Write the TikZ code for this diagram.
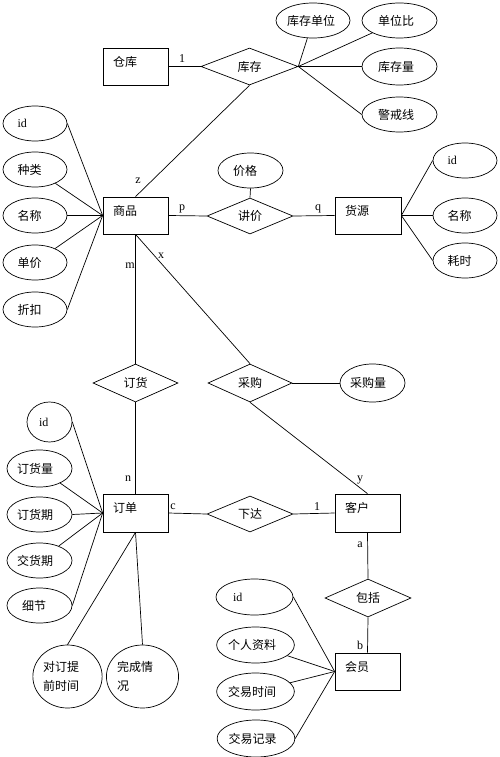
\documentclass[tikz,border=0pt]{standalone}
\usepackage{fontspec}
\setmainfont{Liberation Serif}
\newfontfamily\cjk{Noto Sans CJK SC}
\usetikzlibrary{shapes.geometric}
\begin{document}
\begin{tikzpicture}[x=1pt,y=-1pt,line width=0.7pt,
  cjkf/.style={font=\fontsize{12}{14}\selectfont\cjk},
  ent/.style={draw,rectangle,minimum width=65pt,minimum height=37pt,inner sep=0pt,
    label={[anchor=west,inner sep=0pt,xshift=10pt,yshift=-14pt,cjkf]north west:#1}},
  rel/.style={draw,diamond,inner sep=0pt,minimum width=86pt,minimum height=37pt,cjkf},
  att/.style={draw,ellipse,inner sep=0pt,minimum width=65pt,minimum height=35pt,
    text width=35pt,align=left,cjkf},
  card/.style={inner sep=0pt,font=\fontsize{12}{14}\selectfont\rmfamily}
]
\useasboundingbox (0,0) rectangle (500,757);

% entities
\node[ent=仓库] (ck) at (135.5,66.5) {};
\node[ent=商品] (sp) at (135.5,215.5) {};
\node[ent=货源,minimum width=66pt] (hy) at (368,215.5) {};
\node[ent=订单,minimum height=38pt] (dd) at (135.5,513) {};
\node[ent=客户,minimum height=38pt] (kh) at (367.5,513) {};
\node[ent=会员] (hui) at (367.5,671.5) {};

% relationships
\node[rel,minimum width=97pt] (kc) at (249.5,66.5) {库存};
\node[rel,minimum height=36pt] (jj) at (250,216) {讲价};
\node[rel,minimum width=85pt,minimum height=38pt] (dh) at (135.5,383) {订货};
\node[rel,minimum width=84pt,minimum height=38pt] (cg) at (250,383) {采购};
\node[rel,minimum height=36pt] (xd) at (250,514) {下达};
\node[rel,minimum height=38pt] (bk) at (368,598) {包括};

% attributes of 库存
\node[att,minimum width=74pt,text width=52pt] (kcdw) at (313,20.5) {库存单位};
\node[att,minimum width=75pt,text width=43pt] (dwb) at (399.5,20.5) {单位比};
\node[att,minimum width=75pt,minimum height=37pt,text width=43pt] (kcl) at (399.5,66.5) {库存量};
\node[att,minimum width=75pt,text width=43pt] (jjx) at (399.5,114.5) {警戒线};

% attributes of 商品
\node[att,minimum width=64pt] (spid) at (35,123.5) {\rmfamily id};
\node[att,minimum width=64pt] (spzl) at (35,169.5) {种类};
\node[att,minimum width=64pt] (spmc) at (35,215.5) {名称};
\node[att,minimum width=64pt] (spdj) at (35,262.5) {单价};
\node[att,minimum width=64pt] (spzk) at (35,309.5) {折扣};

% attribute of 讲价
\node[att] (jg) at (250.5,170.5) {价格};

% attributes of 货源
\node[att,minimum width=64pt] (hyid) at (465,160.5) {\rmfamily id};
\node[att,minimum width=64pt] (hymc) at (465,215.5) {名称};
\node[att,minimum width=64pt] (hyhs) at (465,260.5) {耗时};

% attribute of 采购
\node[att,minimum height=38pt,text width=45pt] (cgl) at (372.5,383) {采购量};

% attributes of 订单
\node[att,minimum width=45pt,minimum height=40pt,text width=21pt] (ddid) at (49.5,422) {\rmfamily id};
\node[att,minimum height=37pt,text width=45pt] (dhl) at (39.5,468.5) {订货量};
\node[att,text width=45pt] (dhq) at (39.5,514.5) {订货期};
\node[att,text width=45pt] (jhq) at (39.5,560.5) {交货期};
\node[att] (xj) at (39.5,605.5) {细节};
\node[att,minimum height=63pt,text width=49pt,font=\fontsize{12}{19}\selectfont\cjk] (tq) at (67.5,676.5) {对订提\\前时间};
\node[att,minimum height=63pt,text width=51pt,font=\fontsize{12}{19}\selectfont\cjk] (wc) at (142.5,676.5) {完成情\\况};

% attributes of 会员
\node[att,minimum width=77pt,minimum height=36pt,text width=43pt] (hyid2) at (254.5,597) {\rmfamily id};
\node[att,minimum width=77pt,minimum height=36pt,text width=55pt] (grzl) at (255.5,645) {个人资料};
\node[att,minimum width=77pt,minimum height=37pt,text width=55pt] (jysj) at (255.5,691.5) {交易时间};
\node[att,minimum width=77pt,minimum height=37pt,text width=55pt] (jyjl) at (256,738.5) {交易记录};

% cardinality labels
\node[card] (l1) at (182,59) {1};
\node[card] (lz) at (138,181) {z};
\node[card] (lp) at (182,209) {p};
\node[card] (lq) at (318,209) {q};
\node[card] (lm) at (130,266) {m};
\node[card] (lx) at (161,256) {x};
\node[card] (ln) at (128,479) {n};
\node[card] (lc) at (173,507) {c};
\node[card] (l2) at (317,507) {1};
\node[card] (ly) at (360,480) {y};
\node[card] (la) at (360,545) {a};
\node[card] (lb) at (360,645) {b};

% connectors
\draw (ck.east) -- (kc.west);
\draw (kc.south) -- (sp.north);
\draw (kc.east) -- (kcdw);
\draw (kc.east) -- (dwb);
\draw (kc.east) -- (kcl.west);
\draw (kc.east) -- (jjx.west);
\draw (sp.west) -- (spid.east);
\draw (sp.west) -- (spzl);
\draw (sp.west) -- (spmc.east);
\draw (sp.west) -- (spdj);
\draw (sp.west) -- (spzk.east);
\draw (sp.east) -- (jj.west);
\draw (jj.east) -- (hy.west);
\draw (jg.south) -- (jj.north);
\draw (hy.east) -- (hyid.west);
\draw (hy.east) -- (hymc.west);
\draw (hy.east) -- (hyhs.west);
\draw (sp.south) -- (dh.north);
\draw (sp.south) -- (cg.north);
\draw (cg.east) -- (cgl.west);
\draw (cg.south) -- (kh.north);
\draw (dh.south) -- (dd.north);
\draw (dd.east) -- (xd.west);
\draw (xd.east) -- (kh.west);
\draw (dd.west) -- (ddid.east);
\draw (dd.west) -- (dhl);
\draw (dd.west) -- (dhq.east);
\draw (dd.west) -- (jhq);
\draw (dd.west) -- (xj.east);
\draw (dd.south) -- (tq.north);
\draw (dd.south) -- (wc.north);
\draw (kh.south) -- (bk.north);
\draw (bk.south) -- (hui.north);
\draw (hui.west) -- (hyid2.east);
\draw (hui.west) -- (grzl);
\draw (hui.west) -- (jysj);
\draw (hui.west) -- (jyjl.east);
\end{tikzpicture}
\end{document}
